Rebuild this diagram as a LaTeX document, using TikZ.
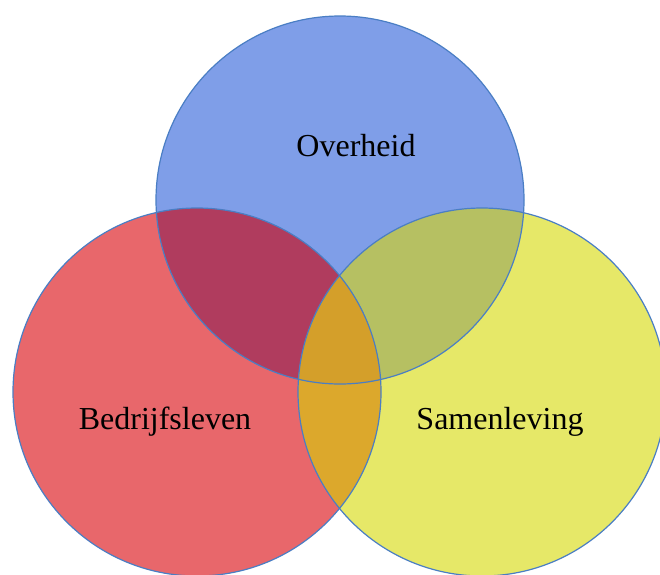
\documentclass[tikz,border=0pt]{standalone}
\usepackage{fontspec}
\setmainfont{Liberation Serif}
\definecolor{cblue}{HTML}{7F9EE8}
\definecolor{cred}{HTML}{E8676B}
\definecolor{cyellow}{HTML}{E6E868}
\definecolor{cAB}{HTML}{B03C5E}
\definecolor{cAC}{HTML}{B6C062}
\definecolor{cBC}{HTML}{DCA82C}
\definecolor{cABC}{HTML}{D49F2A}
\definecolor{cline}{HTML}{4A7EC4}
\begin{document}
\begin{tikzpicture}[x=1pt,y=-1pt,
  lbl/.style={font=\fontsize{32}{36}\selectfont, text=black},
  ring/.style={draw=cline, line width=1.2pt}]
\useasboundingbox (0,0) rectangle (660,574);
\clip (0,0) rectangle (660,574);
\fill[white] (0,0) rectangle (660,574);
\coordinate (A) at (340,200);
\coordinate (B) at (197,392);
\coordinate (C) at (482,392);
\def\rr{184pt}
\fill[cblue] (A) circle[radius=\rr];
\fill[cred] (B) circle[radius=\rr];
\fill[cyellow] (C) circle[radius=\rr];
\begin{scope}
  \clip (A) circle[radius=\rr];
  \fill[cAB] (B) circle[radius=\rr];
  \fill[cAC] (C) circle[radius=\rr];
\end{scope}
\begin{scope}
  \clip (B) circle[radius=\rr];
  \fill[cBC] (C) circle[radius=\rr];
\end{scope}
\begin{scope}
  \clip (A) circle[radius=\rr];
  \clip (B) circle[radius=\rr];
  \fill[cABC] (C) circle[radius=\rr];
\end{scope}
\draw[ring] (A) circle[radius=\rr];
\draw[ring] (B) circle[radius=\rr];
\draw[ring] (C) circle[radius=\rr];
\node[lbl] (ov) at (356,146) {Overheid};
\node[lbl] (be) at (165,422) {Bedrijfsleven};
\node[lbl] (sa) at (500,422) {Samenleving};
\end{tikzpicture}
\end{document}
